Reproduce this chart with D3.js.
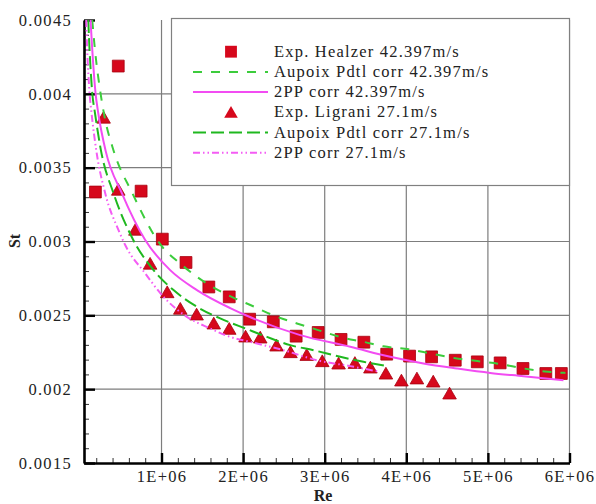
<!DOCTYPE html>
<html>
<head>
<meta charset="utf-8">
<title>St vs Re</title>
<script src="https://cdn.jsdelivr.net/npm/d3@7"></script>
<style>
  body { margin: 0; background: #fff; }
  svg text { font-family: "Liberation Serif", "Times New Roman", Tinos, serif; }
</style>
</head>
<body>
<script>
// ---- data ----
const healzerRe = [0.19e6, 0.47e6, 0.75e6, 1.01e6, 1.30e6, 1.58e6, 1.83e6, 2.08e6, 2.37e6, 2.65e6, 2.92e6,
                   3.20e6, 3.48e6, 3.76e6, 4.04e6, 4.31e6, 4.60e6, 4.87e6, 5.15e6, 5.43e6, 5.71e6, 5.90e6];
const healzerSt = [0.003335, 0.004188, 0.003341, 0.003016, 0.002858, 0.002692, 0.002625, 0.002474, 0.002456, 0.002359, 0.002384,
                   0.002337, 0.002318, 0.002237, 0.002224, 0.002219, 0.002196, 0.002185, 0.002178, 0.002140, 0.002106, 0.002106];

const ligraniRe = [0.29e6, 0.47e6, 0.68e6, 0.86e6, 1.07e6, 1.23e6, 1.43e6, 1.64e6, 1.83e6, 2.03e6, 2.21e6, 2.41e6,
                   2.58e6, 2.78e6, 2.97e6, 3.17e6, 3.37e6, 3.56e6, 3.75e6, 3.94e6, 4.13e6, 4.33e6, 4.53e6];
const ligraniSt = [0.003841, 0.003353, 0.003082, 0.002852, 0.002659, 0.002547, 0.002508, 0.002447, 0.002411, 0.002359, 0.002352, 0.002298,
                   0.002253, 0.002234, 0.002192, 0.002176, 0.002180, 0.002149, 0.002108, 0.002061, 0.002075, 0.002054, 0.001973];

const aupoix42Re = [0.151e6, 0.184e6, 0.252e6, 0.298e6, 0.41e6, 0.64e6, 1.0e6, 1.23e6, 1.57e6, 1.88e6, 2.13e6, 2.37e6,
                    2.66e6, 2.95e6, 3.21e6, 3.48e6, 3.72e6, 4.03e6, 4.31e6, 4.60e6, 4.87e6, 5.15e6, 5.44e6, 5.70e6, 5.95e6];
const aupoix42St = [0.0045, 0.00430, 0.004007, 0.003856, 0.00362, 0.00333, 0.00297, 0.00285, 0.00271, 0.00262, 0.00256, 0.00250,
                    0.002445, 0.002395, 0.00235, 0.00232, 0.00229, 0.00227, 0.00224, 0.00221, 0.00219, 0.00217, 0.00214, 0.00212, 0.00211];

const pp42Re = [0.130e6, 0.151e6, 0.191e6, 0.224e6, 0.316e6, 0.515e6, 0.80e6, 1.106e6, 1.434e6, 1.842e6, 2.047e6,
                2.70e6, 3.313e6, 3.803e6, 4.211e6, 4.62e6, 5.028e6, 5.436e6, 5.926e6];
const pp42St = [0.0045, 0.004301, 0.004007, 0.003872, 0.003612, 0.003326, 0.00301, 0.002806, 0.002671, 0.002549, 0.002497,
                0.002366, 0.002287, 0.002219, 0.002174, 0.00214, 0.00211, 0.002088, 0.002061];

const aupoix27Re = [0.102e6, 0.118e6, 0.151e6, 0.184e6, 0.257e6, 0.412e6, 0.629e6, 0.902e6, 1.147e6, 1.434e6, 1.719e6,
                    2.047e6, 2.292e6, 2.577e6, 2.863e6, 3.19e6, 3.475e6, 3.762e6];
const aupoix27St = [0.0045, 0.004301, 0.004007, 0.003872, 0.003619, 0.003326, 0.003037, 0.002806, 0.002671, 0.002558, 0.002479,
                    0.002407, 0.002354, 0.002298, 0.002264, 0.002219, 0.002185, 0.002156];

const pp27Re = [0.077e6, 0.089e6, 0.118e6, 0.142e6, 0.20e6, 0.31e6, 0.473e6, 0.555e6, 0.80e6, 1.025e6, 1.311e6, 1.597e6,
                1.842e6, 2.087e6, 2.495e6, 2.904e6, 3.313e6, 3.68e6];
const pp27St = [0.0045, 0.004301, 0.004007, 0.003872, 0.003619, 0.003326, 0.003077, 0.002976, 0.002784, 0.002625, 0.00249, 0.002411,
                0.002354, 0.00232, 0.002264, 0.002196, 0.002156, 0.002117];

const xTicks = [1e6, 2e6, 3e6, 4e6, 5e6, 6e6];
const yTicks = [0.0015, 0.002, 0.0025, 0.003, 0.0035, 0.004, 0.0045];
const legendLabels = ["Exp. Healzer 42.397m/s", "Aupoix Pdtl corr 42.397m/s", "2PP corr 42.397m/s",
                      "Exp. Ligrani 27.1m/s", "Aupoix Pdtl corr 27.1m/s", "2PP corr 27.1m/s"];

// ---- chart ----
const W = 596, H = 504;
const fontFam = "Liberation Serif";
const x = d3.scaleLinear().domain([0.05e6, 6e6]).range([84, 569.5]);
const y = d3.scaleLinear().domain([0.0015, 0.0045]).range([463, 20]);

const svg = d3.select("body").append("svg")
    .attr("width", W).attr("height", H)
    .style("background", "#fff");

svg.append("defs").append("clipPath").attr("id", "plotclip")
  .append("rect").attr("x", 84).attr("y", 20).attr("width", 485.5).attr("height", 443);

// grid
svg.append("g").selectAll("line").data(xTicks).join("line")
    .attr("x1", d => x(d)).attr("x2", d => x(d))
    .attr("y1", y(0.0015)).attr("y2", y(0.0045))
    .attr("stroke", "#7d7d7d").attr("stroke-width", 1.2);
svg.append("g").selectAll("line").data(yTicks.slice(1, -1)).join("line")
    .attr("x1", x.range()[0]).attr("x2", x.range()[1])
    .attr("y1", d => y(d)).attr("y2", d => y(d))
    .attr("stroke", "#7d7d7d").attr("stroke-width", 1.2);

// minor ticks
const xMinor = d3.range(2e5, 6e6, 2e5).filter(v => v % 1e6 !== 0);
const yMinor = d3.range(16, 45).map(v => v / 10000).filter(v => Math.round(v * 10000) % 5 !== 0);

const xAxisMinor = svg.append("g").attr("transform", "translate(0,463)")
    .call(d3.axisBottom(x).tickValues(xMinor).tickSize(-5).tickFormat(() => ""));
const yAxisMinor = svg.append("g").attr("transform", "translate(84,0)")
    .call(d3.axisLeft(y).tickValues(yMinor).tickSize(-5).tickFormat(() => ""));
[xAxisMinor, yAxisMinor].forEach(g => {
  g.select(".domain").remove();
  g.selectAll(".tick line").attr("stroke", "#333").attr("stroke-width", 1);
});

// major axes
const xAxis = svg.append("g").attr("transform", "translate(0,463)")
    .call(d3.axisBottom(x).tickValues(xTicks).tickSize(-10).tickSizeOuter(0).tickPadding(7)
      .tickFormat(d => (d / 1e6) + "E+06"));
const yAxis = svg.append("g").attr("transform", "translate(84,0)")
    .call(d3.axisLeft(y).tickValues(yTicks).tickSize(-11).tickSizeOuter(0).tickPadding(12)
      .tickFormat(d => String(d)));
[xAxis, yAxis].forEach(g => {
  g.attr("font-family", fontFam).attr("font-size", 16.5);
  g.select(".domain").attr("stroke", "#000").attr("stroke-width", 2.6);
  g.selectAll(".tick line").attr("stroke", "#000").attr("stroke-width", 2.4);
  g.selectAll(".tick text")
      .style("font-family", fontFam).attr("font-size", 16.5)
      .style("letter-spacing", "1.3px").attr("fill", "#222");
});

// axis titles
svg.append("text").attr("x", 323).attr("y", 501)
    .attr("text-anchor", "middle")
    .style("font-family", fontFam).attr("font-weight", "bold").attr("font-size", 16)
    .attr("fill", "#222")
    .text("Re");
svg.append("text").attr("transform", "translate(20,241) rotate(-90)")
    .attr("text-anchor", "middle")
    .style("font-family", fontFam).attr("font-weight", "bold").attr("font-size", 16)
    .attr("fill", "#222")
    .text("St");

// legend box
svg.append("rect").attr("x", 171.5).attr("y", 18.5).attr("width", 398).attr("height", 167)
    .attr("fill", "#fff").attr("stroke", "#808080").attr("stroke-width", 1.2);

const red = "#d6081c";
const plot = svg.append("g").attr("clip-path", "url(#plotclip)");

// markers
const square = d3.symbol().type(d3.symbolSquare).size(140);
const triangle = d3.symbol().type(d3.symbolTriangle).size(80);

plot.append("g").selectAll("path").data(d3.zip(healzerRe, healzerSt)).join("path")
    .attr("d", square)
    .attr("transform", d => `translate(${x(d[0])},${y(d[1])})`)
    .attr("fill", red).attr("stroke", "#a8000f").attr("stroke-width", 0.8);

plot.append("g").selectAll("path").data(d3.zip(ligraniRe, ligraniSt)).join("path")
    .attr("d", triangle)
    .attr("transform", d => `translate(${x(d[0])},${y(d[1]) + 1.9})`)
    .attr("fill", red).attr("stroke", "#a8000f").attr("stroke-width", 0.8);

// curves
const line = d3.line().x(d => x(d[0])).y(d => y(d[1])).curve(d3.curveMonotoneX);
const curves = [
  {re: aupoix42Re, st: aupoix42St, color: "#3ccc3c", dash: "9,9"},
  {re: pp42Re, st: pp42St, color: "#f24cf2", dash: null},
  {re: aupoix27Re, st: aupoix27St, color: "#1fb81f", dash: "13,5"},
  {re: pp27Re, st: pp27St, color: "#f45cf4", dash: "7,3,1.5,3,1.5,3"}
];
curves.forEach(c => {
  plot.append("path")
      .datum(d3.zip(c.re, c.st))
      .attr("d", line)
      .attr("fill", "none")
      .attr("stroke", c.color)
      .attr("stroke-width", 2)
      .attr("stroke-dasharray", c.dash);
});

// legend entries
const legend = svg.append("g");
const rowY = i => 51.7 + i * 20.2;
legendLabels.forEach((label, i) => {
  const yy = rowY(i);
  if (i === 0) {
    legend.append("path").attr("d", square)
        .attr("transform", `translate(231,${yy})`).attr("fill", red);
  } else if (i === 3) {
    legend.append("path").attr("d", triangle)
        .attr("transform", `translate(231,${yy + 1.5})`).attr("fill", red);
  } else {
    const c = curves[[null, 0, 1, null, 2, 3][i]];
    legend.append("line").attr("x1", 193).attr("x2", 268).attr("y1", yy).attr("y2", yy)
        .attr("stroke", c.color).attr("stroke-width", 2).attr("stroke-dasharray", c.dash);
  }
  legend.append("text").attr("x", 274).attr("y", yy + 5)
      .style("font-family", fontFam).attr("font-size", 16.5)
      .style("letter-spacing", "1.2px").attr("fill", "#222")
      .text(label);
});
</script>
</body>
</html>
